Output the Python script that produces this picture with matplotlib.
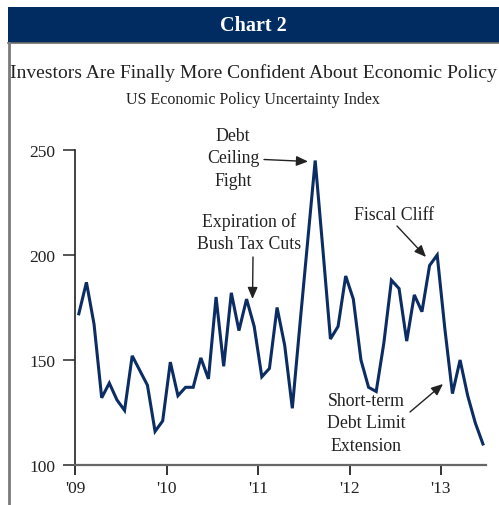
import matplotlib
matplotlib.use("Agg")
import matplotlib.pyplot as plt
from matplotlib.patches import Rectangle
from matplotlib.lines import Line2D

# Data: US Economic Policy Uncertainty Index, monthly Jan 2009 - Jun 2013
months = list(range(54))
epu = [172, 187, 167, 132, 139, 131, 126, 152, 145, 138, 116, 121,
       149, 133, 137, 137, 151, 141, 180, 147, 182, 164, 179, 166,
       142, 146, 175, 157, 127, 167, 206, 245, 203, 160, 166, 190,
       179, 150, 137, 135, 158, 188, 184, 159, 181, 173, 195, 200,
       165, 134, 150, 133, 120, 110]
ytick_vals = [100, 150, 200, 250]
xtick_pos = [-0.5, 11.5, 23.5, 35.5, 47.5]
xtick_labels = ["'09", "'10", "'11", "'12", "'13"]

W, H = 499, 506
fig = plt.figure(figsize=(W / 100, H / 100), dpi=100)
plt.rcParams['font.family'] = ['Liberation Serif', 'DejaVu Serif']

navy = '#002c62'
linec = '#0b2d64'
textc = '#222222'

def fx(px):
    return px / W

def fy(py):
    return 1 - py / H

# header bar
fig.patches.append(Rectangle((fx(8), fy(43.5)), fx(499 - 8), (35.5) / H,
                             transform=fig.transFigure, facecolor=navy,
                             edgecolor='none'))
fig.lines.append(Line2D([fx(8), 1], [fy(43.8), fy(43.8)], transform=fig.transFigure,
                        color='#6e6e6e', lw=1.2))
fig.lines.append(Line2D([fx(9), fx(9)], [fy(44), 0], transform=fig.transFigure,
                        color='#7a7a7a', lw=2))
fig.text(fx(253), fy(26), 'Chart 2', color='white', fontsize=14.5,
         fontweight='bold', ha='center', va='center')
fig.text(fx(253), fy(73), 'Investors Are Finally More Confident About Economic Policy',
         color=textc, fontsize=14.0, ha='center', va='center')
fig.text(fx(253), fy(100), 'US Economic Policy Uncertainty Index',
         color=textc, fontsize=11.5, ha='center', va='center')

ax = fig.add_axes([fx(75), fy(466), fx(486 - 75), (466 - 151) / H])
ax.plot(months, epu, color=linec, lw=2.2, solid_joinstyle='miter', clip_on=False)
ax.set_xlim(-0.5, 53.4)
ax.set_ylim(100, 250)
ax.set_yticks(ytick_vals)
ax.set_xticks(xtick_pos)
ax.set_xticklabels(xtick_labels)
for s in ['top', 'right']:
    ax.spines[s].set_visible(False)
ax.spines['left'].set_color('#222222')
ax.spines['left'].set_linewidth(1.2)
ax.spines['bottom'].set_color('#666666')
ax.spines['bottom'].set_linewidth(1.6)
ax.tick_params(axis='y', length=9, width=1.4, color='#555555', labelsize=12.5,
               labelcolor=textc, pad=5)
ax.tick_params(axis='x', length=7, width=1.4, color='#333333', labelsize=12.5,
               labelcolor=textc, pad=4)
ax.patch.set_alpha(0)

arrowprops = dict(arrowstyle='-|>,head_length=0.7,head_width=0.3', color='#222222', lw=1.0,
                  shrinkA=0, shrinkB=0)

def note(text, tx, ty, ax0, ay0, ax1, ay1):
    ax.annotate(text, xy=(fx(tx), fy(ty)), xycoords='figure fraction',
                ha='center', va='center', fontsize=12.8, color=textc,
                linespacing=1.4, annotation_clip=False)
    ax.annotate('', xy=(fx(ax1), fy(ay1)), xytext=(fx(ax0), fy(ay0)),
                xycoords='figure fraction', textcoords='figure fraction',
                arrowprops=arrowprops, annotation_clip=False)

note('Debt\nCeiling\nFight', 233, 159, 264, 160.5, 308, 162.5)
note('Expiration of\nBush Tax Cuts', 249, 233, 253, 258, 252.5, 300)
note('Fiscal Cliff', 394, 216, 397, 227, 426, 258)
note('Short-term\nDebt Limit\nExtension', 366, 424, 410, 413, 443, 385)

fig.savefig('out.png', dpi=100, facecolor='white')
